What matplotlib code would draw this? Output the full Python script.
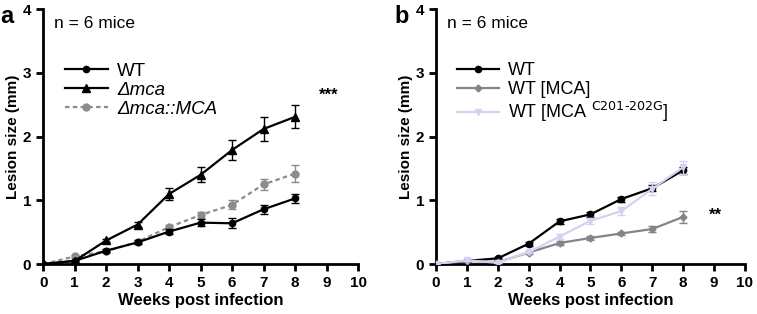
import numpy as np
import matplotlib
matplotlib.use("Agg")
import matplotlib.pyplot as plt
from matplotlib.lines import Line2D

plt.rcParams["font.family"] = ["Liberation Sans", "DejaVu Sans"]

weeks = [0, 1, 2, 3, 4, 5, 6, 7, 8]

# panel a
a_wt = [0, 0.05, 0.21, 0.34, 0.51, 0.65, 0.64, 0.86, 1.03]
a_wt_err = [0, 0.02, 0.02, 0.03, 0.04, 0.05, 0.08, 0.07, 0.07]
a_mca = [0, 0.05, 0.37, 0.62, 1.10, 1.40, 1.79, 2.12, 2.31]
a_mca_err = [0, 0.02, 0.03, 0.04, 0.10, 0.12, 0.15, 0.19, 0.18]
a_comp = [0, 0.12, 0.20, 0.35, 0.58, 0.77, 0.93, 1.25, 1.42]
a_comp_err = [0, 0.02, 0.02, 0.03, 0.04, 0.05, 0.07, 0.09, 0.13]

# panel b
b_wt = [0, 0.05, 0.09, 0.32, 0.67, 0.78, 1.02, 1.19, 1.47]
b_wt_err = [0, 0.01, 0.02, 0.03, 0.04, 0.04, 0.04, 0.05, 0.06]
b_mca = [0, 0.05, 0.03, 0.18, 0.33, 0.41, 0.48, 0.55, 0.74]
b_mca_err = [0, 0.01, 0.01, 0.02, 0.03, 0.03, 0.03, 0.04, 0.10]
b_mut = [0, 0.06, 0.02, 0.19, 0.43, 0.68, 0.83, 1.18, 1.52]
b_mut_err = [0, 0.01, 0.01, 0.02, 0.04, 0.05, 0.06, 0.10, 0.10]

lavender = "#d4d2f0"
grey_a = "#8c8c8c"
grey_b = "#858585"


def style_axes(ax, letter):
    ax.set_xlim(0, 10)
    ax.set_ylim(0, 4)
    ax.set_xticks(range(0, 11))
    ax.set_yticks(range(0, 5))
    for s in ["top", "right"]:
        ax.spines[s].set_visible(False)
    for s in ["left", "bottom"]:
        ax.spines[s].set_linewidth(2)
    ax.tick_params(width=2, length=5, labelsize=11)
    for lab in ax.get_xticklabels() + ax.get_yticklabels():
        lab.set_fontweight("bold")
    ax.set_xlabel("Weeks post infection", fontsize=12, fontweight="bold", labelpad=2)
    ax.set_ylabel("Lesion size (mm)", fontsize=11, fontweight="bold", labelpad=2)
    ax.text(0.035, 0.925, "n = 6 mice", transform=ax.transAxes, fontsize=12.5)
    ax.text(-0.135, 0.945, letter, transform=ax.transAxes, fontsize=17, fontweight="bold")


def add_legend(ax, handles, labels, size, italic=()):
    leg = ax.legend(handles, labels, loc="upper left", bbox_to_anchor=(0.045, 0.82),
                    frameon=False, fontsize=size, handlelength=2.3, handletextpad=0.5,
                    labelspacing=0.1, borderaxespad=0)
    for i in italic:
        leg.get_texts()[i].set_fontstyle("italic")
    return leg


fig = plt.figure(figsize=(7.57, 3.14), dpi=100)
ax1 = fig.add_axes([0.057, 0.159, 0.416, 0.812])
ax2 = fig.add_axes([0.576, 0.159, 0.408, 0.812])

ax1.errorbar(weeks, a_wt, yerr=a_wt_err, color="black", marker="o", ms=4.5, lw=1.6,
             capsize=3, elinewidth=1, zorder=3)
ax1.errorbar(weeks, a_mca, yerr=a_mca_err, color="black", marker="^", ms=5.5, lw=1.6,
             capsize=3, elinewidth=1, zorder=3)
ax1.errorbar(weeks, a_comp, yerr=a_comp_err, color=grey_a, marker="o", ms=5, lw=1.6,
             ls=(0, (2, 1.5)), capsize=3, elinewidth=1, zorder=2)
style_axes(ax1, "a")
h1 = [Line2D([], [], color="black", marker="o", ms=4.5, lw=1.6),
      Line2D([], [], color="black", marker="^", ms=5.5, lw=1.6),
      Line2D([], [], color=grey_a, marker="o", ms=5, lw=1.6, ls=(0, (2, 1.5)))]
add_legend(ax1, h1, ["WT", "\u0394mca", "\u0394mca::MCA"], 13.5, italic=(1, 2))
ax1.text(8.75, 2.58, "***", fontsize=12, fontweight="bold")

ax2.errorbar(weeks, b_wt, yerr=b_wt_err, color="black", marker="o", ms=4.5, lw=1.6,
             capsize=3, elinewidth=1, zorder=2)
ax2.errorbar(weeks, b_mca, yerr=b_mca_err, color=grey_b, marker="D", ms=3.5, lw=1.6,
             capsize=3, elinewidth=1, zorder=3)
ax2.errorbar(weeks, b_mut, yerr=b_mut_err, color=lavender, marker="v", ms=4.5, lw=1.6,
             capsize=3, elinewidth=1, zorder=4)
style_axes(ax2, "b")
h2 = [Line2D([], [], color="black", marker="o", ms=4.5, lw=1.6),
      Line2D([], [], color=grey_b, marker="D", ms=3.5, lw=1.6),
      Line2D([], [], color=lavender, marker="v", ms=4.5, lw=1.6)]
add_legend(ax2, h2, ["WT", "WT [MCA]", r"WT [MCA $^{\mathrm{C201\text{-}202G}}$]"], 13)
ax2.text(8.85, 0.7, "**", fontsize=12, fontweight="bold")

fig.savefig("out.png", dpi=100)
